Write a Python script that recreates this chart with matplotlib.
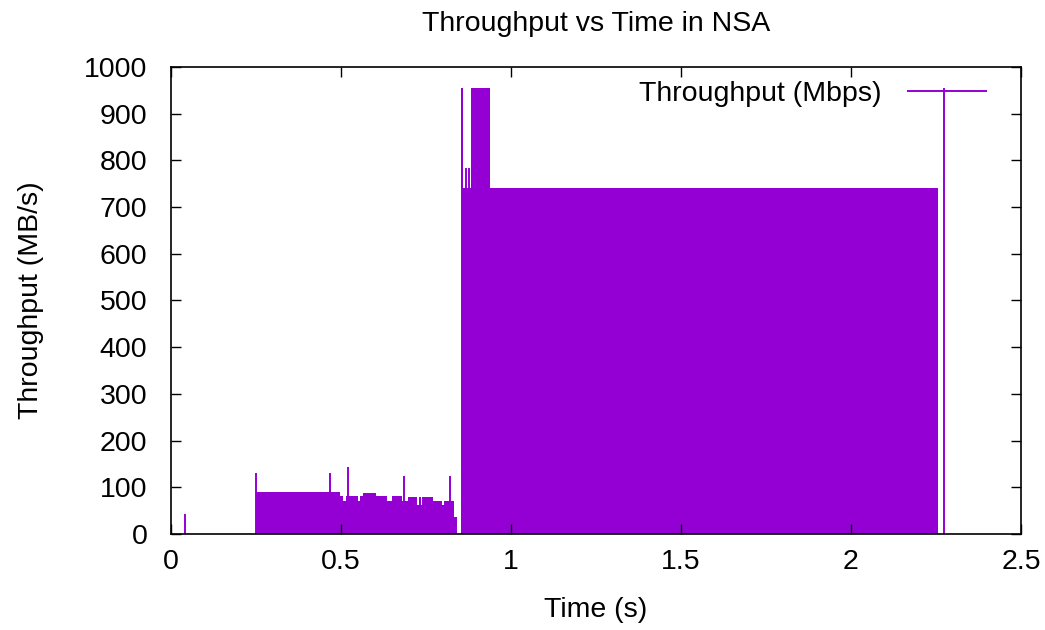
# Throughput vs time, gnuplot-style impulse plot
import matplotlib.pyplot as plt

plt.rcParams['font.family'] = ['Liberation Sans', 'DejaVu Sans']

# Dense regions of impulses, drawn as filled blocks: start time, end time, throughput
block_start = [0.250, 0.497, 0.505, 0.514, 0.551, 0.556, 0.566, 0.604, 0.634, 0.651,
               0.679, 0.698, 0.725, 0.729, 0.734, 0.739, 0.772, 0.798, 0.803, 0.833,
               0.852, 0.860, 0.882, 0.938]
block_end = [0.497, 0.505, 0.514, 0.551, 0.556, 0.566, 0.604, 0.634, 0.651, 0.679,
             0.698, 0.725, 0.729, 0.734, 0.739, 0.772, 0.798, 0.803, 0.833, 0.840,
             0.860, 0.882, 0.938, 2.255]
block_value = [89, 82, 71, 82, 71, 82, 88, 82, 71, 82,
               71, 79, 61, 79, 61, 79, 71, 61, 71, 36,
               956, 740, 956, 740]

# Single impulses standing out from the rest
spike_time = [0.041, 0.251, 0.468, 0.521, 0.684, 0.822, 0.868, 0.876, 2.275]
spike_value = [43, 131, 131, 143, 124, 124, 783, 783, 956]

color = '#9400D3'
fs = 20.5

fig = plt.figure(figsize=(10.45, 6.3), dpi=100)
ax = fig.add_axes([0.1636, 0.1524, 0.8134, 0.7413])

widths = [e - s for s, e in zip(block_start, block_end)]
ax.bar(block_start, block_value, width=widths, align='edge', color=color, linewidth=0)
ax.vlines(spike_time, 0, spike_value, color=color, linewidth=1.4, label='Throughput (Mbps)')

ax.set_xlim(0, 2.5)
ax.set_ylim(0, 1000)
ax.set_xticks([0, 0.5, 1, 1.5, 2, 2.5])
ax.set_xticklabels(['0', '0.5', '1', '1.5', '2', '2.5'])
ax.set_yticks(range(0, 1001, 100))

ax.tick_params(direction='in', length=7, width=1, top=True, right=True,
               labelsize=fs, colors='black')
ax.tick_params(axis='x', pad=11)
ax.tick_params(axis='y', pad=17)
for s in ax.spines.values():
    s.set_linewidth(1.2)

ax.set_title('Throughput vs Time in NSA', fontsize=fs, pad=26)
ax.set_xlabel('Time (s)', fontsize=fs, labelpad=16)
ax.set_ylabel('Throughput (MB/s)', fontsize=fs, labelpad=29)

ax.legend(loc='upper right', bbox_to_anchor=(0.99, 1.025), frameon=False,
          markerfirst=False, handlelength=2.8, fontsize=fs, handletextpad=0.9)

plt.savefig('out.png')
